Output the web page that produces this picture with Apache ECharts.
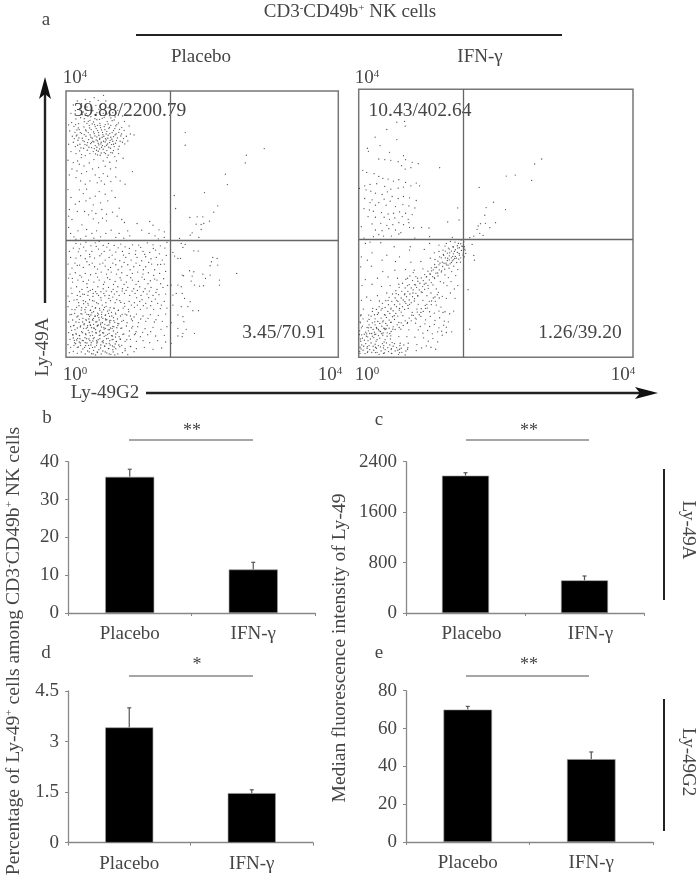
<!DOCTYPE html>
<html><head><meta charset="utf-8">
<style>html,body{margin:0;padding:0;background:#fff}#c{width:697px;height:878px}</style>
<script src="https://cdn.jsdelivr.net/npm/echarts@6/dist/echarts.min.js"></script></head>
<body><div id="c"></div>
<script>
const barCategories = ['Placebo', 'IFN-γ'];
const pctAmongNK = [36, 11.5];
const pctAmongNKUpper = [38, 13.4];
const mfiLy49A = [2178, 518];
const mfiLy49AUpper = [2225, 587];
const pctLy49G2 = [3.42, 1.47];
const pctLy49G2Upper = [4.0, 1.57];
const mfiLy49G2 = [70, 43.8];
const mfiLy49G2Upper = [71.7, 47.6];
const gateChannels = { x: 314, y: 353 };

const placeboUpperLeft = [
22,758,34,770,47,762,58,775,72,768,85,780,97,772,113,787,120,770,106,760,90,757,63,752,41,748,28,741,15,733,52,737,76,742,99,745,127,750,141,735,156,742,170,725,148,722,131,726,112,733,88,728,66,724,44,720,30,716,17,705,
8,698,24,694,38,702,55,708,72,712,93,714,109,718,124,708,139,711,158,704,176,709,190,695,168,690,150,695,135,697,118,699,102,703,86,699,70,697,54,692,40,684,27,676,11,680,19,664,33,668,47,673,61,680,76,684,91,687,104,690,117,684,129,688,143,681,159,676,175,682,194,671,205,668,
182,664,165,665,148,668,132,672,121,671,110,676,98,675,85,672,73,668,60,664,49,658,36,652,22,646,8,640,28,633,42,640,55,648,68,654,79,658,93,662,102,658,114,664,126,658,138,655,152,651,170,646,186,650,
160,634,143,640,131,645,118,647,106,646,95,650,84,647,74,642,63,637,53,628,41,620,30,612,15,618,64,622,77,630,88,636,99,638,110,636,122,637,134,628,112,625,101,626,92,622,82,618,72,612,58,606,46,600,35,590,
119,612,106,614,95,608,124,600,140,614,158,612,172,598,152,590,132,586,112,590,84,594,70,584,54,575,40,580,22,585,6,592,18,566,33,560,47,552,62,558,80,566,98,570,118,574,134,566,150,570,
88,548,100,540,112,552,125,544,94,524,106,530,116,520,135,528,150,542,163,530,178,520,200,558,72,530,58,520,44,530,30,540,10,548,
40,503,52,492,62,505,72,478,88,484,100,498,118,490,138,500,148,480,126,470,104,464,82,458,60,470,40,468,15,480,6,504,
28,460,10,444,34,438,8,424,18,414,56,438,78,440,90,432,108,444,122,430,140,436,160,448,154,424,168,414,176,405,122,410,110,418,98,404,82,416,68,428,48,398,36,380,8,390,14,372,24,362,
62,384,60,364,78,372,92,380,120,372,136,382,150,360,160,372,186,380,214,402,228,382,252,408,262,397,280,383,296,377,250,372,268,365,278,356,296,360,192,365,174,358,104,362,84,358,44,356,30,355,
];
const placeboClusterTop = [
63,703,71,689,79,701,83,677,88,693,95,681,99,667,103,697,107,683,111,669,115,693,119,657,123,679,127,667,131,691,135,661,139,675,143,663,147,687,151,671,155,659,67,675,75,661,81,649,87,665,91,653,97,643,101,655,105,641,109,661,113,649,117,633,121,653,125,641,129,631,133,651,137,639,141,649,145,633,149,643,
59,683,55,669,51,651,57,639,65,645,69,631,77,645,85,627,93,631,89,611,97,619,103,607,107,631,115,615,123,621,127,607,135,615,143,621,147,603,37,689,43,675,39,659,31,665,35,637,45,629,29,699,33,683,25,657,47,609,
81,741,93,735,105,727,101,715,115,721,123,731,135,719,127,701,145,713,153,699,161,685,167,671,173,657,177,641,163,649,157,625,95,697,83,707,75,723,61,733,49,729,55,717,67,709,87,717,
];
const placeboClusterBottom = [
67,157,73,141,79,153,83,137,89,149,95,133,101,147,107,129,113,143,119,127,125,139,131,123,137,135,143,119,149,133,155,115,57,143,63,129,69,115,75,127,81,111,87,123,93,107,99,119,105,103,111,117,117,99,123,113,129,97,135,111,141,93,147,105,153,89,159,101,
45,131,51,117,55,101,61,111,65,95,71,105,77,89,83,99,89,83,95,95,101,77,107,91,113,73,119,87,125,69,131,83,137,65,143,79,149,61,155,75,33,121,39,105,43,91,47,77,53,87,59,71,67,81,73,65,79,77,85,59,91,73,97,53,103,67,109,47,115,63,121,41,127,57,133,37,139,53,145,31,151,47,
23,95,27,83,31,69,35,57,41,65,49,51,57,59,63,43,69,55,75,37,81,49,87,31,93,43,99,23,105,37,111,19,117,33,123,13,129,27,135,9,141,23,147,7,17,81,21,67,25,51,29,41,37,31,43,43,51,25,59,35,65,19,71,27,77,11,83,21,89,7,95,15,
47,149,53,161,39,155,27,143,17,129,59,167,71,173,85,169,97,161,109,157,121,153,133,149,145,147,157,141,169,129,173,111,165,87,171,69,163,55,159,37,97,97,85,87,73,97,61,87,103,81,115,85,127,83,139,87,131,109,119,115,107,121,95,125,83,117,71,123,
33,173,43,183,55,189,67,197,81,183,93,191,105,179,117,185,129,177,141,181,153,173,165,165,177,153,189,137,197,115,201,93,209,71,183,53,195,33,205,17,
];
const placeboLowerLeft = [
30,342,44,340,60,346,75,335,88,344,100,348,112,336,128,342,145,336,165,340,178,332,200,338,225,330,245,344,262,338,284,335,298,328,304,345,270,322,252,315,232,318,210,320,190,312,170,318,150,316,132,322,115,318,98,325,78,318,60,320,40,326,22,328,10,318,
14,300,30,298,44,305,58,296,72,302,86,298,102,305,118,292,130,300,148,295,162,290,180,300,196,292,214,300,228,290,240,302,256,296,272,300,290,292,302,306,296,280,276,278,258,280,240,272,222,276,204,272,186,278,168,272,150,278,134,270,118,274,102,280,86,272,70,278,52,270,34,276,18,268,6,280,
12,250,28,254,42,246,58,252,74,248,90,252,106,256,122,250,136,256,152,250,168,254,184,246,200,252,216,256,232,250,248,254,264,246,282,252,300,258,294,236,274,232,254,230,236,234,218,228,200,232,182,226,166,232,148,228,132,234,116,226,100,232,84,226,68,232,52,228,36,232,20,226,8,238,
15,208,32,212,48,204,64,210,80,204,96,212,112,206,128,210,142,204,156,212,170,206,186,210,204,206,222,212,238,206,256,210,274,204,292,210,306,216,300,190,280,188,262,186,244,190,226,186,208,192,192,186,176,192,160,186,146,190,130,186,114,192,98,186,82,192,66,186,50,190,34,186,18,192,6,184,
10,168,24,172,38,164,52,170,66,162,80,170,92,164,106,172,120,164,134,170,148,164,162,170,176,162,190,168,206,164,222,168,240,162,258,168,276,162,296,168,304,148,284,146,264,144,244,148,224,144,206,150,188,144,172,148,158,142,144,148,130,142,116,150,102,142,88,148,74,142,60,150,46,142,32,150,18,144,6,152,
12,128,26,132,36,124,48,130,58,136,68,128,78,134,88,124,98,130,108,136,118,126,128,132,138,124,150,130,164,124,178,130,194,124,212,130,232,124,254,128,278,126,300,130,290,108,266,106,240,108,218,104,200,110,184,104,168,108,156,102,144,110,132,104,120,112,110,104,100,112,90,106,80,114,70,106,60,114,50,106,40,114,30,106,20,112,8,106,
14,92,24,96,34,88,44,94,54,98,64,90,74,96,84,88,94,94,104,98,114,90,124,96,134,88,144,92,156,96,168,88,182,94,198,88,216,92,238,86,262,90,286,84,304,92,296,66,270,64,246,68,224,62,206,68,190,64,174,70,160,62,150,70,140,64,130,72,120,66,110,74,100,66,90,74,80,66,70,74,60,68,50,74,40,66,30,72,20,68,8,74,
12,54,22,58,32,52,42,56,52,50,62,56,72,50,82,56,92,50,102,56,112,50,122,56,132,50,142,54,152,48,164,54,178,48,194,54,212,48,232,50,252,44,276,50,300,46,288,28,262,24,236,30,212,26,194,32,178,26,162,32,150,26,140,34,128,26,116,34,104,28,92,36,80,30,68,36,56,30,44,36,34,30,24,36,14,30,6,38,
10,14,22,18,34,12,46,16,58,10,70,16,82,10,94,16,106,10,118,16,130,10,142,16,156,10,170,14,186,8,178,20,168,36,148,40,130,42,112,44,94,46,76,44,58,44,40,46,26,44,
];
const placeboLowerScatter = [
37,317,53,331,71,309,91,333,107,311,123,331,139,307,157,329,173,307,191,327,209,309,219,337,237,309,263,327,281,311,
27,283,41,277,63,287,79,283,95,265,111,283,127,263,141,283,157,263,175,285,193,263,211,283,233,263,249,285,267,263,285,279,
19,237,47,241,63,221,95,241,113,219,125,239,143,219,163,239,175,219,195,239,211,219,229,241,247,221,267,235,285,221,
41,197,73,201,89,197,105,197,121,199,137,197,153,197,169,199,181,201,199,199,215,201,233,197,251,199,271,195,
213,179,229,173,249,179,269,175,287,157,255,155,233,155,215,157,197,157,183,127,205,121,225,115,247,117,271,113,191,79,211,77,231,75,255,77,
];
const placeboRight = [
359,675,359,637,597,627,543,607,540,584,480,550,486,519,417,495,326,486,457,455,330,447,445,436,373,420,395,422,412,422,432,409,392,400,407,399,415,402,314,407,407,384,380,374,374,367,400,360,342,357,
347,342,359,339,352,330,385,320,398,319,322,315,327,304,337,297,345,297,442,300,455,297,438,287,434,275,457,277,514,252,372,260,385,257,350,247,354,245,380,244,412,250,434,247,420,237,462,232,462,217,377,229,387,217,402,214,414,215,337,217,317,217,347,212,332,192,322,187,350,192,357,177,374,167,322,157,347,152,367,152,382,140,399,140,337,127,352,122,355,107,317,104,337,87,362,84,352,72,387,72,337,64,350,62,317,42,
];
const ifnUpperLeft = [
114,702,137,704,139,690,84,680,49,657,114,650,64,632,26,624,29,615,92,612,134,602,60,592,78,590,96,588,118,584,140,590,160,582,178,578,128,572,139,562,156,566,242,566,
12,558,24,552,46,548,60,540,72,534,88,532,104,526,120,530,140,522,172,520,182,512,18,512,34,516,54,518,78,510,96,502,118,505,134,508,156,512,
2,504,22,500,36,496,50,490,70,486,86,494,100,480,118,474,134,480,152,476,172,468,40,470,60,462,76,472,94,466,18,474,34,462,50,454,82,454,110,450,132,456,150,452,168,446,
16,444,32,440,44,436,68,432,88,428,104,430,122,434,140,430,160,426,28,420,50,418,76,418,92,412,108,416,130,420,148,412,296,446,
40,398,66,400,84,394,102,396,120,402,134,396,150,402,164,386,8,390,50,380,70,378,90,384,110,380,126,372,152,388,188,388,210,386,266,404,300,410,
44,360,60,366,74,362,98,362,120,368,168,356,212,360,280,358,16,356,
];
const ifnLowerLeft = [
20,340,34,344,66,342,106,330,154,330,212,340,240,335,262,340,274,346,288,344,298,340,306,350,314,345,308,332,296,326,282,330,268,326,258,332,
40,312,84,305,122,300,152,320,196,322,226,312,240,316,252,320,272,312,286,316,300,310,312,305,
8,300,26,290,70,290,110,286,156,284,186,286,214,296,228,292,242,300,254,304,266,296,280,288,292,296,304,284,316,300,
6,270,38,272,72,256,108,260,140,262,166,260,192,264,218,258,228,268,240,276,250,284,262,276,270,266,284,272,296,262,
20,232,56,236,88,240,116,236,146,236,176,236,202,240,214,248,226,238,236,252,248,258,258,246,268,238,278,256,290,244,
10,214,40,218,68,212,94,214,120,218,146,214,170,216,196,218,208,206,222,216,232,204,244,226,254,222,264,214,276,226,286,204,296,214,
24,180,56,184,84,192,112,190,138,190,162,192,176,184,190,194,204,184,216,192,228,180,238,194,250,182,262,176,274,192,288,176,
8,170,36,170,62,168,88,170,114,170,138,166,152,158,166,168,178,158,192,170,204,158,218,168,232,156,246,150,258,136,272,130,284,138,
14,144,42,146,70,146,96,144,122,146,148,146,160,134,174,144,186,134,200,146,212,136,226,132,240,138,252,134,
6,124,30,126,56,128,80,126,106,124,132,124,158,126,172,114,186,122,200,112,214,122,228,110,242,118,256,108,268,106,262,90,248,78,278,76,
4,106,26,108,48,106,72,106,96,104,120,104,146,104,170,102,184,92,198,100,212,92,226,98,240,88,254,96,
8,88,30,88,54,86,78,86,102,84,126,84,150,82,178,82,192,72,206,80,220,70,236,76,250,66,262,74,
2,68,24,70,48,68,72,66,96,64,120,62,144,62,168,60,194,58,208,48,222,56,236,46,
6,48,28,50,52,48,76,46,100,44,124,42,148,42,174,38,188,28,202,34,216,30,230,24,
4,30,26,32,50,30,74,28,98,26,122,24,146,24,172,20,
4,12,26,14,50,14,74,12,98,12,122,14,
];
const ifnBand = [
11,57,17,69,23,63,29,79,33,71,37,89,43,83,49,97,53,89,57,107,63,101,67,117,73,109,77,127,83,119,87,137,93,131,97,147,103,139,107,157,113,151,117,167,123,159,127,177,133,171,137,187,143,181,147,197,153,189,157,207,163,201,167,217,173,209,177,227,183,221,187,237,193,229,197,247,203,241,207,257,213,249,217,267,223,261,227,277,233,269,237,287,243,281,247,297,
41,63,47,75,51,69,59,83,65,77,69,93,75,87,81,101,85,95,91,111,97,105,101,121,107,113,111,131,117,123,121,141,127,135,131,151,137,143,141,161,147,155,151,171,157,163,161,181,167,175,171,191,177,183,181,201,187,195,191,211,197,203,201,221,207,215,211,231,217,223,221,241,227,235,231,251,237,243,241,261,247,255,251,271,257,263,261,281,267,275,271,291,277,283,281,301,287,295,
253,307,259,317,265,311,271,323,277,317,283,329,289,321,295,333,301,327,305,339,311,331,259,297,265,289,271,303,277,297,283,309,289,301,295,313,301,305,307,319,293,283,283,291,299,293,305,297,313,311,317,323,273,279,255,281,
73,73,79,83,85,73,91,87,97,77,103,91,109,83,115,97,121,89,127,103,133,95,139,109,145,101,151,117,157,109,163,125,169,117,175,135,181,127,187,145,193,137,199,155,205,147,211,167,217,157,223,177,229,167,235,187,241,177,
31,113,37,123,41,137,47,127,53,143,59,133,61,151,67,141,71,161,79,149,81,169,89,157,91,179,99,167,101,189,109,177,111,199,119,187,121,209,129,197,131,221,139,207,141,233,151,217,153,243,161,229,163,253,171,241,
];
const ifnBottomDense = [
3,17,7,25,13,21,9,37,15,33,21,41,19,11,27,17,25,27,33,23,31,35,37,43,39,15,45,21,43,33,49,39,55,15,53,27,59,35,61,9,67,19,65,31,71,41,77,13,79,23,75,35,83,43,89,17,87,29,93,37,99,11,97,23,103,33,109,19,107,41,113,29,119,9,117,21,123,35,129,15,127,27,135,37,139,7,141,19,147,29,
5,55,9,67,3,79,11,93,5,103,13,115,7,127,17,51,21,75,27,61,25,89,31,97,35,55,39,71,45,59,41,103,49,115,55,53,59,65,63,57,69,71,61,79,79,53,85,63,83,85,95,55,93,71,
];
const ifnRight = [
547,592,526,577,468,544,441,541,517,528,360,507,403,463,381,447,439,441,377,424,364,399,357,392,379,400,392,387,409,402,354,382,362,370,372,364,344,362,332,357,339,337,344,304,346,290,327,202,332,84,318,320,320,310,316,330,
];

function toPairs(list) {
  const out = [];
  for (let i = 0; i + 1 < list.length; i += 2) out.push([list[i], list[i + 1]]);
  return out;
}

const FONT = '"Liberation Serif","Times New Roman",serif';
const INK = '#454545';
const supRich = {
  n: { fontFamily: FONT, fontSize: 19, fill: INK, color: INK },
  t: { fontFamily: FONT, fontSize: 19.7, fill: INK, color: INK },
  s: { fontFamily: FONT, fontSize: 11, fill: INK, color: INK, verticalAlign: 'top', lineHeight: 19, padding: [0, 0, 7, 0] }
};
function T(x, y, text, o) {
  o = o || {};
  return {
    type: 'text', x, y, rotation: o.rot || 0, silent: true,
    style: {
      text, fontFamily: FONT, fontSize: o.size || 19, fill: o.fill || INK,
      align: o.align || 'center', verticalAlign: 'middle', rich: o.rich ? supRich : undefined
    }
  };
}
function L(x1, y1, x2, y2, w, c) {
  return { type: 'line', silent: true, shape: { x1, y1, x2, y2 }, style: { stroke: c, lineWidth: w } };
}

const barPanels = [
  { left: 68, right: 315, top: 461.7, bot: 613, max: 40, int: 10, vals: pctAmongNK, up: pctAmongNKUpper, w: 49, pad: 0 },
  { left: 406, right: 644, top: 461.7, bot: 613, max: 2400, int: 800, vals: mfiLy49A, up: mfiLy49AUpper, w: 47, pad: 12 },
  { left: 68, right: 313, top: 691, bot: 842.7, max: 4.5, int: 1.5, vals: pctLy49G2, up: pctLy49G2Upper, w: 48, pad: 0 },
  { left: 406, right: 653, top: 690.7, bot: 842, max: 80, int: 20, vals: mfiLy49G2, up: mfiLy49G2Upper, w: 48.5, pad: 0 }
];
const dotPanels = [
  { left: 66, right: 338.3, top: 91, bot: 357.3, dots: [placeboUpperLeft, placeboClusterTop, placeboClusterBottom, placeboLowerLeft, placeboLowerScatter, placeboRight] },
  { left: 358.7, right: 633, top: 89.3, bot: 357.3, dots: [ifnUpperLeft, ifnLowerLeft, ifnBand, ifnBottomDense, ifnRight] }
];

const grid = [], xAxis = [], yAxis = [], series = [];
dotPanels.forEach(p => {
  grid.push({ left: p.left, width: p.right - p.left, top: p.top, height: p.bot - p.top, show: true, borderColor: '#777', borderWidth: 1.5, backgroundColor: 'transparent' });
  xAxis.push({ type: 'value', gridIndex: grid.length - 1, min: 0, max: 820, show: false });
  yAxis.push({ type: 'value', gridIndex: grid.length - 1, min: 0, max: 800, show: false });
  series.push({
    type: 'scatter', xAxisIndex: grid.length - 1, yAxisIndex: grid.length - 1, silent: true, animation: false,
    symbolSize: 1.3, itemStyle: { color: '#333', opacity: 0.85 }, data: toPairs(p.dots.flat()),
    markLine: {
      silent: true, symbol: 'none', animation: false, label: { show: false },
      lineStyle: { color: '#666', width: 1.3, type: 'solid' },
      data: [{ xAxis: gateChannels.x }, { yAxis: gateChannels.y }]
    }
  });
});
barPanels.forEach(p => {
  grid.push({ left: p.left, width: p.right - p.left, top: p.top, height: p.bot - p.top });
  const g = grid.length - 1;
  xAxis.push({
    type: 'category', gridIndex: g, data: barCategories,
    axisLine: { lineStyle: { color: '#888', width: 1.3 } },
    axisTick: { show: true, length: 3, alignWithLabel: false, lineStyle: { color: '#888' } },
    axisLabel: { color: INK, fontFamily: FONT, fontSize: 19, margin: 12, padding: [0, 0, 0, p.pad] }
  });
  yAxis.push({
    type: 'value', gridIndex: g, min: 0, max: p.max, interval: p.int, splitLine: { show: false },
    axisLine: { show: true, lineStyle: { color: '#888', width: 1.3 } },
    axisTick: { show: true, length: 3, lineStyle: { color: '#888' } },
    axisLabel: { color: INK, fontFamily: FONT, fontSize: 19, margin: 9, showMinLabel: true, showMaxLabel: true, formatter: v => String(v) }
  });
  series.push({
    type: 'bar', xAxisIndex: g, yAxisIndex: g, data: p.vals, barWidth: p.w, silent: true, animation: false,
    itemStyle: { color: '#000', borderColor: '#9a9a9a', borderWidth: 0.6 }
  });
  series.push({
    type: 'custom', xAxisIndex: g, yAxisIndex: g, silent: true, animation: false, z: 1,
    data: p.vals.map((v, i) => [i, v, p.up[i]]),
    encode: { x: 0, y: [1, 2] },
    renderItem: (params, api) => {
      const a = api.coord([api.value(0), api.value(1)]);
      const b = api.coord([api.value(0), api.value(2)]);
      return {
        type: 'group', children: [
          { type: 'line', shape: { x1: a[0], y1: a[1], x2: b[0], y2: b[1] }, style: { stroke: '#555', lineWidth: 1.2 } },
          { type: 'line', shape: { x1: a[0] - 2, y1: b[1], x2: a[0] + 2, y2: b[1] }, style: { stroke: '#555', lineWidth: 1.2 } }
        ]
      };
    }
  });
});

const graphic = [
  T(46, 20, 'a'), T(47, 418, 'b'), T(379, 420, 'c'), T(46, 653, 'd'), T(379, 653, 'e'),
  T(350, 12, '{n|CD3}{s|-}{n|CD49b}{s|+}{n| NK cells}', { rich: true }),
  L(136, 35, 562, 35, 2, '#222'),
  T(201, 57, 'Placebo'), T(480, 57, 'IFN-γ'),
  T(75, 78, '{n|10}{s|4}', { rich: true }), T(367, 78, '{n|10}{s|4}', { rich: true }),
  T(75, 375, '{n|10}{s|0}', { rich: true }), T(330, 375, '{n|10}{s|4}', { rich: true }),
  T(367, 375, '{n|10}{s|0}', { rich: true }), T(623, 375, '{n|10}{s|4}', { rich: true }),
  T(130, 111, '39.88/2200.79', { size: 19.5 }), T(284, 333, '3.45/70.91', { size: 19.5 }),
  T(420, 111, '10.43/402.64', { size: 19.5 }), T(580, 333, '1.26/39.20', { size: 19.5 }),
  L(45, 303, 45, 90, 2.4, '#222'),
  { type: 'polygon', silent: true, shape: { points: [[45, 77], [51, 99], [45, 94], [39, 99]] }, style: { fill: '#111' } },
  T(43, 347, 'Ly-49A', { rot: Math.PI / 2 }),
  T(105, 393, 'Ly-49G2'),
  L(146, 393, 645, 393, 2.4, '#222'),
  { type: 'polygon', silent: true, shape: { points: [[658, 393], [635, 387], [640, 393], [635, 399]] }, style: { fill: '#111' } },
  L(129, 440, 253, 440, 1.3, '#888'), T(192, 431, '**', { size: 18 }),
  L(129, 676, 253, 676, 1.3, '#888'), T(197, 665, '*', { size: 18 }),
  L(466, 440, 589, 440, 1.3, '#888'), T(529, 431, '**', { size: 18 }),
  L(466, 676, 589, 676, 1.3, '#888'), T(529, 665, '**', { size: 18 }),
  L(664, 469, 664, 600, 2, '#222'), L(664, 699, 664, 831, 2, '#222'),
  T(688, 530, 'Ly-49A', { rot: -Math.PI / 2 }), T(688, 762, 'Ly-49G2', { rot: -Math.PI / 2 }),
  T(14, 651, '{t|Percentage of Ly-49}{s|+}{t| cells among CD3}{s|-}{t|CD49b}{s|+}{t| NK cells}', { rich: true, rot: Math.PI / 2 }),
  T(340, 648, 'Median fluorescence intensity of Ly-49', { rot: Math.PI / 2, size: 19.6 })
];

const chart = echarts.init(document.getElementById('c'), null, { renderer: 'canvas' });
chart.setOption({ animation: false, backgroundColor: '#fff', grid, xAxis, yAxis, series, graphic });
</script></body></html>
